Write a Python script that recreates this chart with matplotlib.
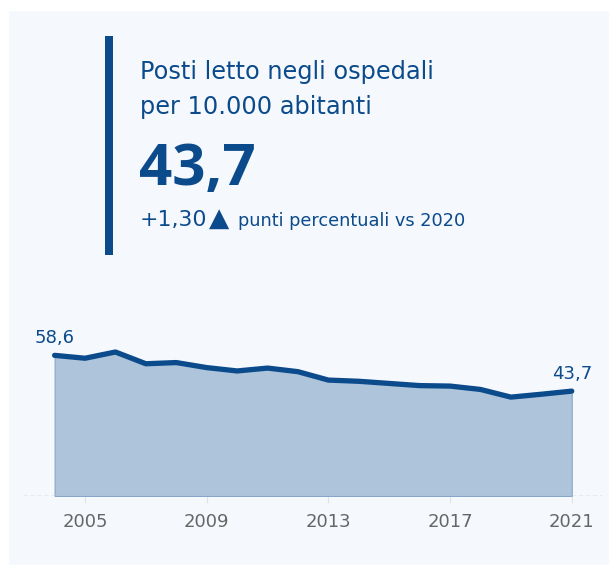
import matplotlib
matplotlib.use("Agg")
import matplotlib.pyplot as plt
from matplotlib.patches import Rectangle

plt.rcParams['font.family'] = ['DejaVu Sans']

# posti letto ospedalieri ogni 10.000 abitanti
years = list(range(2004, 2022))
beds = [58.6, 57.4, 60.0, 55.1, 55.6, 53.5, 52.1, 53.3, 51.8,
        48.3, 47.8, 46.9, 46.0, 45.8, 44.4, 41.2, 42.4, 43.7]
tick_years = [2005, 2009, 2013, 2017, 2021]

title_lines = ["Posti letto negli ospedali", "per 10.000 abitanti"]
kpi_value = "43,7"
delta = "+1,30"
delta_note = "punti percentuali vs 2020"

W, H = 609, 565
DARK = '#0b4a8b'
FILL = '#adc4db'
BG = '#f5f8fd'


def fy(px):
    # pixel row (from top) -> figure fraction
    return 1 - px / H


fig = plt.figure(figsize=(W / 100, H / 100), dpi=100)
fig.patch.set_facecolor('white')

# card background and the vertical accent bar
fig.patches.append(Rectangle((9 / W, 0), 1, fy(11), transform=fig.transFigure,
                             facecolor=BG, edgecolor='none', zorder=-2))
fig.patches.append(Rectangle((105 / W, fy(255)), 8 / W, (255 - 36) / H,
                             transform=fig.transFigure, facecolor=DARK,
                             edgecolor='none', zorder=-1))

for line, base in zip(title_lines, (79, 114)):
    fig.text(140 / W, fy(base), line, fontsize=17.3, color=DARK, va='baseline')
fig.text(139 / W, fy(185), kpi_value, fontsize=42, fontweight='bold',
         color=DARK, va='baseline', family=['Open Sans', 'DejaVu Sans'])
fig.text(140 / W, fy(226), delta, fontsize=15.8, color=DARK, va='baseline')
fig.text(209 / W, fy(226), "\u25b2", fontsize=19, color=DARK, va='baseline')
fig.text(238 / W, fy(226), delta_note, fontsize=12.8, color=DARK, va='baseline')

# area chart
ax = fig.add_axes([23 / W, (H - 496) / H, 579 / W, 196 / H])
ax.set_zorder(2)
ax.set_facecolor('none')
ax.axhline(0, color='#b4b4b4', linewidth=1, linestyle=(0, (3, 2)), zorder=1)
ax.fill_between(years, beds, 0, facecolor=FILL, edgecolor='#86a6c9',
                linewidth=0.8, zorder=2)
ax.plot(years, beds, color=DARK, linewidth=3.8, solid_joinstyle='round',
        solid_capstyle='round', zorder=3)

for i in (0, len(years) - 1):
    ax.annotate(f"{beds[i]:.1f}".replace('.', ','), (years[i], beds[i]),
                xytext=(0, 9), textcoords='offset points', ha='center',
                va='baseline', fontsize=13, color=DARK)

ax.set_xlim(2002.961, 2021.995)
ax.set_ylim(0, 196 / 2.4)
ax.set_xticks(tick_years)
ax.set_xticklabels([str(y) for y in tick_years])
ax.set_yticks([])
ax.tick_params(axis='x', length=5, width=0.8, color='#e2e2e2',
               labelcolor='#666666', labelsize=13, pad=7)
for side in ax.spines.values():
    side.set_visible(False)

fig.savefig('out.png', dpi=100, facecolor='white')
